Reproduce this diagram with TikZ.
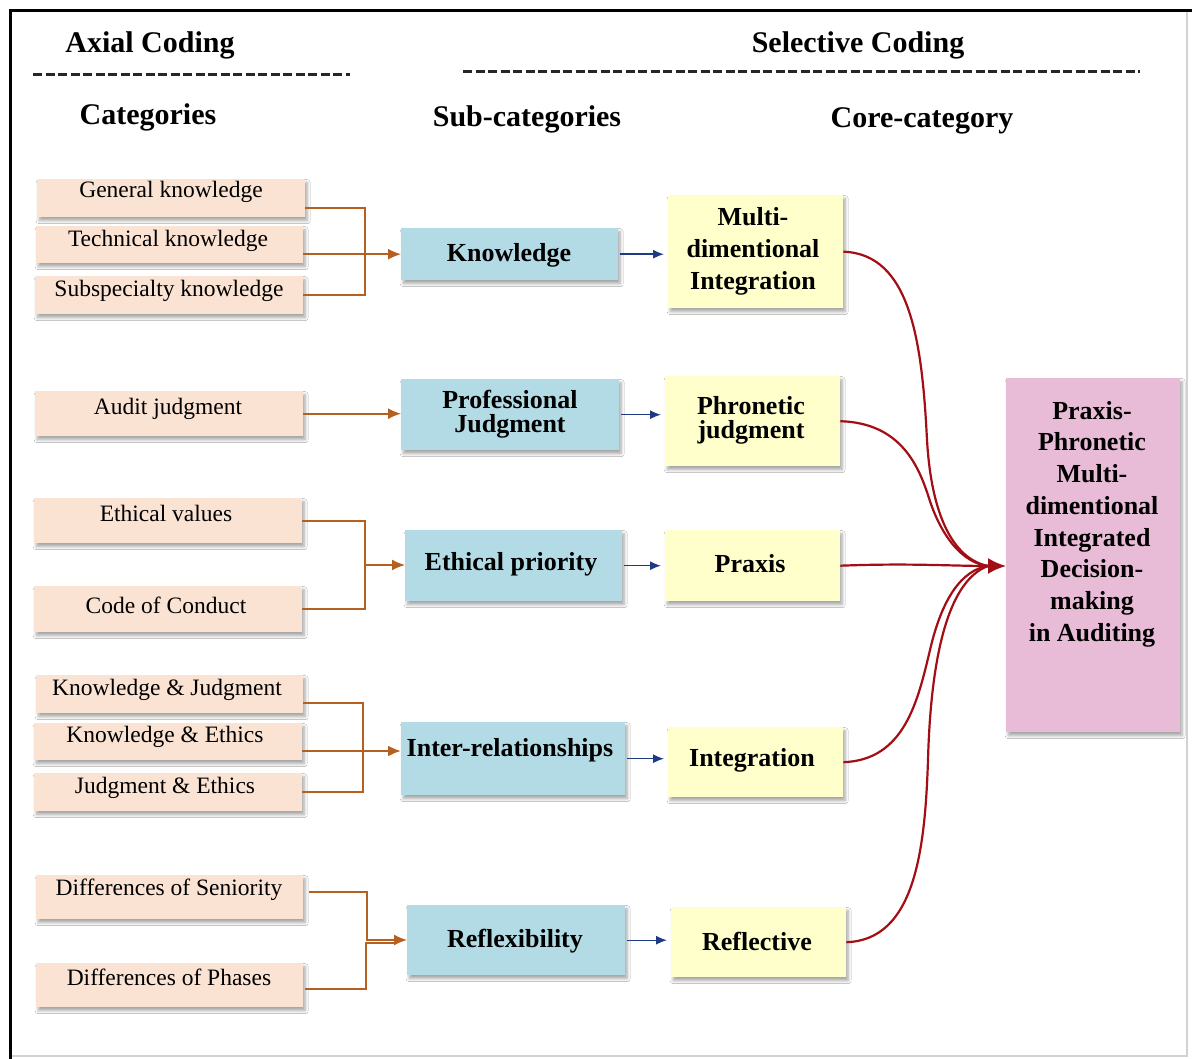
\documentclass[tikz,border=0pt]{standalone}
\usepackage{fontspec}
\setmainfont{Liberation Serif}
\usetikzlibrary{shadows,shadows.blur,arrows.meta,calc}

\definecolor{peach}{HTML}{FBE3D3}
\definecolor{subblue}{HTML}{B3DBE5}
\definecolor{coreyel}{HTML}{FFFFCC}
\definecolor{corepink}{HTML}{E8BCD7}
\definecolor{linkbrown}{HTML}{B5601F}
\definecolor{linknavy}{HTML}{1F3A85}
\definecolor{linkred}{HTML}{A30D14}

\tikzset{
  boxshadow/.style={blur shadow={shadow xshift=2pt, shadow yshift=-3.5pt, shadow blur radius=3pt, shadow blur steps=6, shadow opacity=35}},
  anybox/.style={rectangle, draw=none, anchor=north west, inner sep=0pt, boxshadow},
  catbox/.style={anybox, fill=peach},
  subbox/.style={anybox, fill=subblue},
  corebox/.style={anybox, fill=coreyel},
  finalbox/.style={anybox, fill=corepink},
  cattxt/.style={font=\fontsize{23.5}{26}\selectfont, inner sep=0pt},
  boldtxt/.style={font=\fontsize{26}{28}\selectfont\bfseries, inner sep=0pt, align=center},
  headtxt/.style={font=\fontsize{30}{32}\selectfont\bfseries, inner sep=0pt},
  brownlink/.style={draw=linkbrown, line width=1.6pt},
  browntip/.style={brownlink, -{Latex[length=13pt,width=11pt]}},
  navylink/.style={draw=linknavy, line width=1.4pt, -{Latex[length=11pt,width=9pt]}, shorten >=4pt, shorten <=2pt},
  redlink/.style={draw=linkred, line width=2.2pt},
  dashrule/.style={line width=3pt, dash pattern=on 9pt off 3.5pt, black!85}
}

\begin{document}
\begin{tikzpicture}[x=1pt, y=-1pt]
  \useasboundingbox (0,0) rectangle (1192,1059);
  \fill[white] (0,0) rectangle (1192,1059);

  % frame
  \draw[gray!35, line width=2pt] (1187,11) -- (1187,1056) -- (10,1056);
  \draw[black, line width=3pt] (10,1059) -- (10,11) -- (1192,11);

  % headings
  \node[headtxt] (hax) at (150,45) {Axial Coding};
  \node[headtxt] (hsel) at (858,45) {Selective Coding};
  \draw[dashrule] (33,75) -- (350,75);
  \draw[dashrule] (463,72) -- (1140,72);
  \node[headtxt] (hcat) at (148,117) {Categories};
  \node[headtxt] (hsub) at (527,119) {Sub-categories};
  \node[headtxt] (hcore) at (922,121) {Core-category};

  % categories
  \node[catbox, minimum width=268pt, minimum height=38pt] (c1) at (37,179) {};
  \node[catbox, minimum width=267pt, minimum height=37pt] (c2) at (36,226) {};
  \node[catbox, minimum width=268pt, minimum height=38pt] (c3) at (35,276) {};
  \node[catbox, minimum width=268pt, minimum height=45pt] (c4) at (35,391) {};
  \node[catbox, minimum width=268pt, minimum height=45pt] (c5) at (34,498) {};
  \node[catbox, minimum width=268pt, minimum height=46pt] (c6) at (34,586) {};
  \node[catbox, minimum width=267pt, minimum height=38pt] (c7) at (36,675) {};
  \node[catbox, minimum width=268pt, minimum height=37pt] (c8) at (34,723) {};
  \node[catbox, minimum width=268pt, minimum height=38pt] (c9) at (34,773) {};
  \node[catbox, minimum width=267pt, minimum height=44pt] (c10) at (36,875) {};
  \node[catbox, minimum width=267pt, minimum height=44pt] (c11) at (36,963) {};

  \node[cattxt] (c1t) at (171,192) {General knowledge};
  \node[cattxt] (c2t) at (168,241) {Technical knowledge};
  \node[cattxt] (c3t) at (169,291) {Subspecialty knowledge};
  \node[cattxt] (c4t) at (168,409) {Audit judgment};
  \node[cattxt] (c5t) at (166,513) {Ethical values};
  \node[cattxt] (c6t) at (166,605) {Code of Conduct};
  \node[cattxt] (c7t) at (167,690) {Knowledge \& Judgment};
  \node[cattxt] (c8t) at (165,737) {Knowledge \& Ethics};
  \node[cattxt] (c9t) at (165,788) {Judgment \& Ethics};
  \node[cattxt] (c10t) at (169,890) {Differences of Seniority};
  \node[cattxt] (c11t) at (169,977) {Differences of Phases};

  % sub-categories
  \node[subbox, minimum width=217pt, minimum height=52pt] (k) at (401,228) {};
  \node[subbox, minimum width=218pt, minimum height=71pt] (pj) at (401,379) {};
  \node[subbox, minimum width=217pt, minimum height=71pt] (ep) at (405,530) {};
  \node[subbox, minimum width=224pt, minimum height=73pt] (ir) at (401,722) {};
  \node[subbox, minimum width=218pt, minimum height=70pt] (rf) at (407,905) {};

  \node[boldtxt] (kt) at (509,255) {Knowledge};
  \node[boldtxt, font=\fontsize{26}{24}\selectfont\bfseries] (pjt) at (510,414) {Professional\\Judgment};
  \node[boldtxt] (ept) at (511,564) {Ethical priority};
  \node[boldtxt] (irt) at (510,750) {Inter-relationships};
  \node[boldtxt] (rft) at (515,941) {Reflexibility};

  % core-category elements
  \node[corebox, minimum width=175pt, minimum height=113pt] (m1) at (668,195) {};
  \node[corebox, minimum width=175pt, minimum height=90pt] (m2) at (665,376) {};
  \node[corebox, minimum width=175pt, minimum height=71pt] (m3) at (665,530) {};
  \node[corebox, minimum width=175pt, minimum height=70pt] (m4) at (668,727) {};
  \node[corebox, minimum width=175pt, minimum height=70pt] (m5) at (671,907) {};

  \node[boldtxt, font=\fontsize{26}{32}\selectfont\bfseries] (m1t) at (753,251) {Multi-\\dimentional\\Integration};
  \node[boldtxt, font=\fontsize{26}{24}\selectfont\bfseries] (m2t) at (751,420) {Phronetic\\judgment};
  \node[boldtxt] (m3t) at (750,564) {Praxis};
  \node[boldtxt] (m4t) at (752,760) {Integration};
  \node[boldtxt] (m5t) at (757,941) {Reflective};

  % core category
  \node[finalbox, minimum width=174pt, minimum height=354pt] (fb) at (1006,378) {};
  \node[boldtxt, font=\fontsize{26}{31.7}\selectfont\bfseries] (fbt) at (1092,524)
    {Praxis-\\Phronetic\\Multi-\\dimentional\\Integrated\\Decision-\\making\\in Auditing};

  % categories -> sub-categories
  \coordinate (jk) at (365,254);
  \draw[brownlink] ($(c1.east)+(0,10)$) -| (jk) |- (c3.east);
  \draw[browntip] (c2.east |- k.west) -- (k.west);

  \draw[browntip] (c4.east) -- (c4.east -| pj.west);

  \coordinate (je) at (365,565);
  \draw[brownlink] (c5.east) -| (je) |- (c6.east);
  \draw[browntip] (je) -- (je -| ep.west);

  \coordinate (ji) at (363,751);
  \draw[brownlink] ($(c7.east)+(0,9)$) -| (ji) |- (c9.east);
  \draw[browntip, line width=2.2pt] (c8.east |- ji) -- (ji -| ir.west);

  \coordinate (jr1) at (367,940);
  \coordinate (jr2) at (366,943);
  \draw[browntip] ($(c10.east)+(6,-5)$) -| (jr1) -- (jr1 -| rf.west);
  \draw[brownlink] ($(c11.east)+(2,4)$) -| (jr2) -- ($(jr2 -| rf.west)+(-12,0)$);

  % sub-categories -> core elements
  \draw[navylink] (k.east) -- (k.east -| m1.west);
  \draw[navylink] (pj.east) -- (pj.east -| m2.west);
  \draw[navylink] (ep.east) -- (ep.east -| m3.west);
  \draw[navylink] (ir.east) -- (ir.east -| m4.west);
  \draw[navylink] (rf.east) -- (rf.east -| m5.west);

  % core elements -> core category
  \coordinate (hub) at (988,566);
  \draw[redlink] (m1.east) .. controls (910,254) and (922,340) .. (927,440)
                 .. controls (932,525) and (958,560) .. (hub);
  \draw[redlink] (m2.east) .. controls (900,423) and (918,465) .. (928,495)
                 .. controls (940,535) and (962,563) .. (hub);
  \draw[redlink] (m4.east) .. controls (905,760) and (918,700) .. (930,650)
                 .. controls (942,598) and (962,570) .. (hub);
  \draw[redlink] (m5.east) .. controls (915,940) and (925,850) .. (928,760)
                 .. controls (931,650) and (950,580) .. (hub);
  \draw[redlink, -{Latex[length=18pt,width=16pt]}] (m3.east) .. controls (910,563) and (950,566) .. (fb.west |- hub);
\end{tikzpicture}
\end{document}
